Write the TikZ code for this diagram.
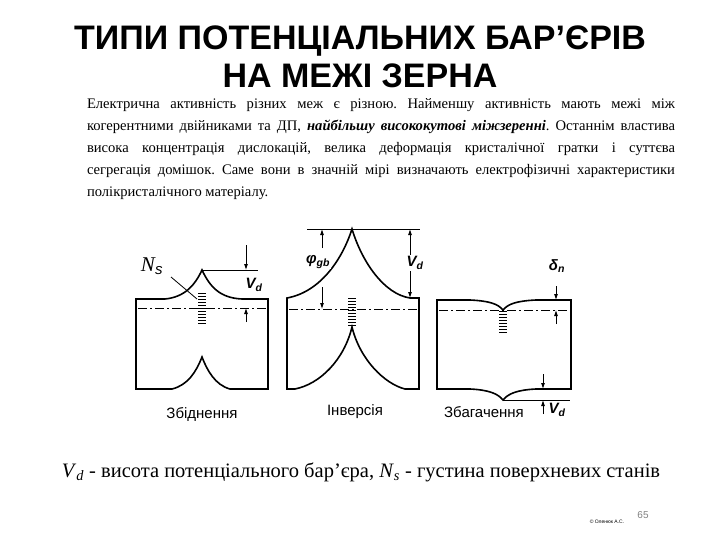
\documentclass[tikz,border=0pt]{standalone}
\usepackage{fontspec}
\setmainfont{Liberation Serif}
\setsansfont{Liberation Sans}
\usetikzlibrary{arrows.meta}
\begin{document}
\begin{tikzpicture}[x=1pt,y=-1pt,
  curve/.style={line width=1.6pt},
  dd/.style={line width=1pt,dash pattern=on 9pt off 3pt on 2pt off 3pt},
  arr/.style={line width=0.8pt,-{Latex[length=6pt,width=4pt]}},
  thin/.style={line width=0.8pt},
  lab/.style={font=\sffamily\fontsize{15}{17}\selectfont},
  sym/.style={font=\sffamily\bfseries\itshape\fontsize{15}{17}\selectfont}]
\useasboundingbox (0,0) rectangle (720,540);
\node[font=\sffamily\bfseries\fontsize{34}{38}\selectfont,align=center] (title) at (360,57) {ТИПИ ПОТЕНЦІАЛЬНИХ БАР’ЄРІВ\\НА МЕЖІ ЗЕРНА};
\node[text width=588pt,align=justify,font=\frenchspacing\fontsize{14.6}{22}\selectfont,anchor=north,inner sep=0pt] (para) at (381,98)
{Електрична активність різних меж є різною. Найменшу активність мають межі між когерентними двійниками та ДП, \textbf{\textit{найбільшу висококутові міжзеренні}}. Останнім властива висока концентрація дислокацій, велика деформація кристалічної гратки і суттєва сегрегація домішок. Саме вони в значній мірі визначають електрофізичні характеристики полікристалічного матеріалу.};
% panel 1
\draw[curve] (136,299) -- (165,299) .. controls (185,297) and (195,285) .. (202,270) .. controls (210,287) and (220,298) .. (242,299) -- (268,299) -- (268,389) -- (230,389) .. controls (215,385) and (207,370) .. (202,357) .. controls (196,372) and (188,385) .. (172,389) -- (136,389) -- cycle;
\draw[dd] (138,308) -- (266,308);
\draw[thin] (202,270) -- (258,270);
\foreach \yy in {293,296,...,323} \draw[line width=1pt] (198,\yy) -- (206,\yy);
\coordinate (a1) at (246,245); \coordinate (a1e) at (246,270);
\coordinate (a2) at (246,322); \coordinate (a2e) at (246,308);
\draw[arr] (a1) -- (a1e); \draw[arr] (a2) -- (a2e);
\node[sym] (vd1) at (254,285) {V\textsubscript{d}};
\node[font=\itshape\fontsize{21}{24}\selectfont] (ns) at (152,266) {N\textsubscript{\fontsize{15}{15}\selectfont\sffamily s}};
\coordinate (nsend) at (197,299);
\draw[thin] (171,277) -- (nsend);
\node[lab] (l1) at (202,414) {Збіднення};
% panel 2
\draw[curve] (287,298) .. controls (320,292) and (342,260) .. (352,229) .. controls (362,262) and (384,294) .. (410,298) -- (419,298) -- (419,389) -- (405,389) .. controls (385,384) and (360,360) .. (352,327) .. controls (344,360) and (320,384) .. (295,389) -- (287,389) -- cycle;
\draw[dd] (289,309) -- (417,309);
\draw[thin] (307,229) -- (420,229);
\foreach \yy in {298,301,...,325} \draw[line width=1pt] (348,\yy) -- (356,\yy);
\coordinate (b1) at (322,248); \coordinate (b1e) at (322,229);
\coordinate (b2) at (322,287); \coordinate (b2e) at (322,309);
\draw[arr] (b1) -- (b1e); \draw[arr] (b2) -- (b2e);
\node[sym,fill=white,inner sep=1pt] (phi) at (318,262) {φ\textsubscript{gb}};
\coordinate (c1) at (410,229); \coordinate (c1e) at (410,298);
\draw[thin,{Latex[length=6pt,width=4pt]}-{Latex[length=6pt,width=4pt]}] (c1) -- (c1e);
\node[sym,fill=white,inner sep=1pt] (vd2) at (415,263) {V\textsubscript{d}};
\node[lab] (l2) at (355,412) {Інверсія};
% panel 3
\draw[curve] (437,300) -- (470,300) .. controls (490,301) and (498,304) .. (503,310) .. controls (508,304) and (516,301) .. (536,300) -- (571,300) -- (571,389) -- (536,389) .. controls (516,390) and (508,394) .. (503,400) .. controls (498,394) and (490,390) .. (470,389) -- (437,389) -- cycle;
\draw[dd] (439,310) -- (569,310);
\draw[thin] (503,400) -- (570,400);
\foreach \yy in {311,314,...,332} \draw[line width=1pt] (499,\yy) -- (507,\yy);
\coordinate (d1) at (556,286); \coordinate (d1e) at (556,300);
\coordinate (d2) at (556,324); \coordinate (d2e) at (556,310);
\draw[arr] (d1) -- (d1e); \draw[arr] (d2) -- (d2e);
\node[sym] (dn) at (557,266) {δ\textsubscript{n}};
\coordinate (e1) at (543,374); \coordinate (e1e) at (543,389);
\coordinate (e2) at (543,414); \coordinate (e2e) at (543,400);
\draw[arr] (e1) -- (e1e); \draw[arr] (e2) -- (e2e);
\node[sym] (vd3) at (557,410) {V\textsubscript{d}};
\node[lab] (l3) at (484,412) {Збагачення};
% bottom
\node[font=\fontsize{20.5}{24}\selectfont] (leg) at (361,472) {\textit{V}\textsubscript{\textit{d}} - висота потенціального бар’єра, \textit{N}\textsubscript{\textit{s}} - густина поверхневих станів};
\node[font=\sffamily\fontsize{10}{12}\selectfont,text=gray] (pg) at (643,515) {65};
\node[font=\sffamily\fontsize{5}{6}\selectfont] (cp) at (607,522) {© Оленюк А.С.};
\end{tikzpicture}
\end{document}
